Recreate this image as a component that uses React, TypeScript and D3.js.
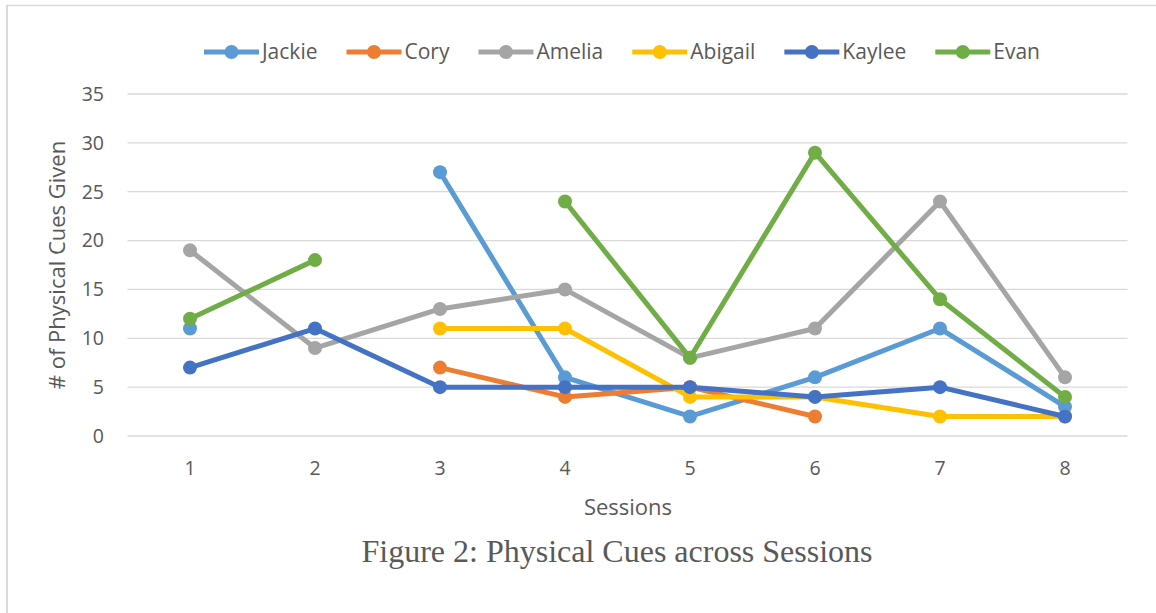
import React, { useEffect, useRef } from "react";
import * as d3 from "d3";

const sessions = ["1", "2", "3", "4", "5", "6", "7", "8"];
const seriesNames = ["Jackie", "Cory", "Amelia", "Abigail", "Kaylee", "Evan"];
const seriesColors = ["#5b9bd5", "#ed7d31", "#a5a5a5", "#ffc000", "#4472c4", "#70ad47"];
const jackie = [11, null, 27, 6, 2, 6, 11, 3];
const cory = [null, null, 7, 4, 5, 2, null, null];
const amelia = [19, 9, 13, 15, 8, 11, 24, 6];
const abigail = [null, null, 11, 11, 4, 4, 2, 2];
const kaylee = [7, 11, 5, 5, 5, 4, 5, 2];
const evan = [12, 18, null, 24, 8, 29, 14, 4];
const seriesValues = [jackie, cory, amelia, abigail, kaylee, evan];
const yTicks = [0, 5, 10, 15, 20, 25, 30, 35];

const W = 1156;
const H = 613;
const FONT = "'Open Sans', 'Noto Sans', sans-serif";

export default function App() {
  const ref = useRef<SVGSVGElement | null>(null);

  useEffect(() => {
    const svg = d3.select(ref.current);
    svg.selectAll("*").remove();

    const left = 127.5, right = 1127.5, top = 94, bottom = 436;
    const x = d3.scaleBand().domain(sessions).range([left, right]);
    const y = d3.scaleLinear().domain([0, 35]).range([bottom, top]);
    const cx = (s: string) => (x(s) as number) + x.bandwidth() / 2;

    // frame
    svg.append("line").attr("x1", 7).attr("x2", 7).attr("y1", 5).attr("y2", H).attr("stroke", "#d9d9d9").attr("stroke-width", 2);
    svg.append("line").attr("x1", 6).attr("x2", W).attr("y1", 5.5).attr("y2", 5.5).attr("stroke", "#d9d9d9").attr("stroke-width", 1.5);

    // grid
    svg.append("g").selectAll("line").data(yTicks).join("line")
      .attr("x1", left).attr("x2", right)
      .attr("y1", d => y(d)).attr("y2", d => y(d))
      .attr("stroke", "#d9d9d9").attr("stroke-width", 1.3);

    // y labels
    svg.append("g").selectAll("text").data(yTicks).join("text")
      .attr("x", 104).attr("y", d => y(d)).attr("dy", "0.35em")
      .attr("text-anchor", "end").attr("font-family", FONT).attr("font-size", 19.5)
      .attr("fill", "#595959").text(d => d);

    // x labels
    svg.append("g").selectAll("text").data(sessions).join("text")
      .attr("x", d => cx(d)).attr("y", 475)
      .attr("text-anchor", "middle").attr("font-family", FONT).attr("font-size", 19.5)
      .attr("fill", "#595959").text(d => d);

    // axis titles
    svg.append("text").attr("x", 628).attr("y", 515).attr("text-anchor", "middle")
      .attr("font-family", FONT).attr("font-size", 22).attr("fill", "#595959").text("Sessions");
    svg.append("text").attr("transform", "translate(65,265) rotate(-90)").attr("text-anchor", "middle")
      .attr("font-family", FONT).attr("font-size", 22).attr("fill", "#595959").text("# of Physical Cues Given");

    // caption
    svg.append("text").attr("x", 617).attr("y", 562).attr("text-anchor", "middle")
      .attr("font-family", "'Liberation Serif', 'Times New Roman', serif").attr("font-size", 32)
      .attr("fill", "#595959").text("Figure 2: Physical Cues across Sessions");

    // series
    seriesValues.forEach((vals, i) => {
      const pts = vals.map((v, j) => ({ s: sessions[j], v }));
      const line = d3.line<{ s: string; v: number | null }>()
        .defined(d => d.v !== null)
        .x(d => cx(d.s)).y(d => y(d.v as number));
      const g = svg.append("g");
      g.append("path").datum(pts).attr("d", line as any).attr("fill", "none")
        .attr("stroke", seriesColors[i]).attr("stroke-width", 5).attr("stroke-linejoin", "round").attr("stroke-linecap", "round");
      g.selectAll("circle").data(pts.filter(d => d.v !== null)).join("circle")
        .attr("cx", d => cx(d.s)).attr("cy", d => y(d.v as number)).attr("r", 7)
        .attr("fill", seriesColors[i]);
    });

    // legend
    const lg = svg.append("g");
    const items: { g: any; w: number }[] = [];
    seriesNames.forEach((name, i) => {
      const g = lg.append("g");
      g.append("line").attr("x1", 0).attr("x2", 55).attr("y1", 0).attr("y2", 0)
        .attr("stroke", seriesColors[i]).attr("stroke-width", 5);
      g.append("circle").attr("cx", 27.5).attr("cy", 0).attr("r", 7).attr("fill", seriesColors[i]);
      const t = g.append("text").attr("x", 58).attr("y", 0).attr("dy", "0.35em")
        .attr("font-family", FONT).attr("font-size", 21).attr("fill", "#595959").text(name);
      const tw = (t.node() as SVGTextElement).getComputedTextLength();
      items.push({ g, w: 58 + tw });
    });
    const gap = 29;
    const total = items.reduce((a, b) => a + b.w, 0) + gap * (items.length - 1);
    let pos = 622 - total / 2;
    items.forEach(it => {
      it.g.attr("transform", `translate(${pos},52)`);
      pos += it.w + gap;
    });
  }, []);

  return (
    <svg ref={ref} width={W} height={H}
      style={{ position: "absolute", left: 0, top: 0, background: "#fff" }} />
  );
}
